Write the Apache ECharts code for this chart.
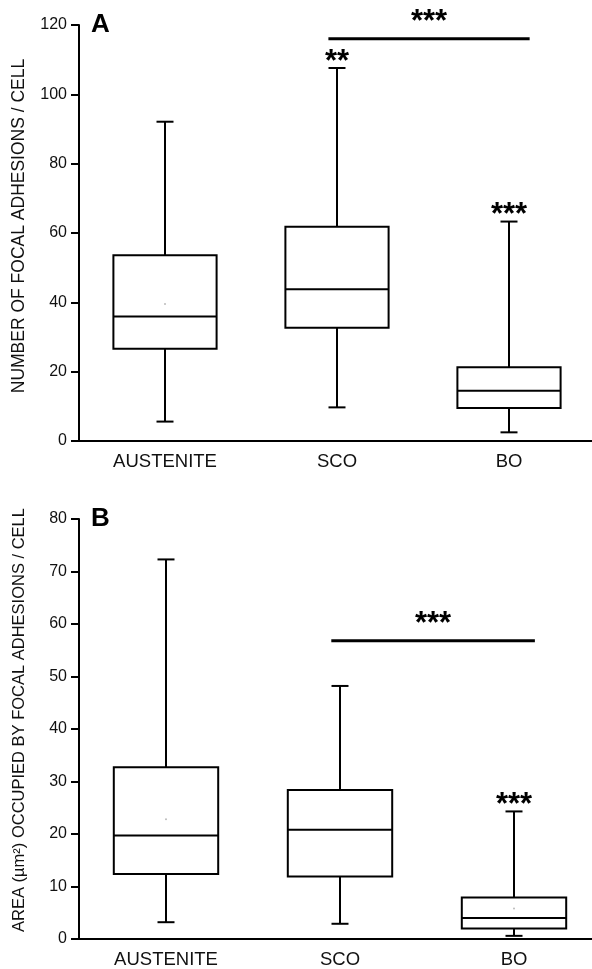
<!DOCTYPE html>
<html><head><meta charset="utf-8">
<script src="https://cdn.jsdelivr.net/npm/echarts@6/dist/echarts.min.js"></script>
<style>html,body{margin:0;padding:0;background:#fff;overflow:hidden}#c{width:620px;height:969px}</style>
</head><body><div id="c"></div>
<script>
const categories = ['AUSTENITE', 'SCO', 'BO'];
// [min, Q1, median, Q3, max]
const countStats = [[5.6, 26.6, 35.9, 53.6, 92.1], [9.7, 32.7, 43.8, 61.8, 107.6], [2.5, 9.5, 14.5, 21.3, 63.3]];
const countMeans = [39.5, null, null];
const areaStats = [[3.2, 12.4, 19.7, 32.7, 72.3], [2.9, 11.9, 20.8, 28.4, 48.2], [0.6, 2.0, 4.0, 7.9, 24.3]];
const areaMeans = [22.8, null, 5.8];
const countTicks = [0, 120, 20];
const areaTicks = [0, 80, 10];
const countStars = ['', '**', '***'];
const areaStars = ['', '', '***'];
const countBar = {from: 'SCO', to: 'BO', value: 116, label: '***'};
const areaBar = {from: 'SCO', to: 'BO', value: 56.8, label: '***'};
const panelLabels = ['A', 'B'];
const yNames = ['NUMBER OF FOCAL ADHESIONS / CELL', 'AREA (\u00b5m\u00b2) OCCUPIED BY FOCAL ADHESIONS / CELL'];

const FONT = '"Liberation Sans", Arial, sans-serif';
const chart = echarts.init(document.getElementById('c'), null, {renderer: 'canvas'});

function boxData(stats) { return stats.map((s, i) => [i].concat(s)); }
function meanData(m) { return m.map((v, i) => v == null ? null : [i, v]).filter(d => d); }

function renderBox(params, api) {
  const x = api.value(0);
  const band = api.size([1, 0])[0];
  const w = band * 0.6;
  const cap = 17;
  const pMin = api.coord([x, api.value(1)]);
  const pQ1 = api.coord([x, api.value(2)]);
  const pMed = api.coord([x, api.value(3)]);
  const pQ3 = api.coord([x, api.value(4)]);
  const pMax = api.coord([x, api.value(5)]);
  const cx = pMed[0];
  const st = {stroke: '#000', lineWidth: 2, fill: null};
  return {type: 'group', children: [
    {type: 'rect', shape: {x: cx - w / 2, y: pQ3[1], width: w, height: pQ1[1] - pQ3[1]}, style: {stroke: '#000', lineWidth: 2, fill: '#fff'}},
    {type: 'line', shape: {x1: cx - w / 2, y1: pMed[1], x2: cx + w / 2, y2: pMed[1]}, style: st},
    {type: 'line', shape: {x1: cx, y1: pQ3[1], x2: cx, y2: pMax[1]}, style: st},
    {type: 'line', shape: {x1: cx, y1: pQ1[1], x2: cx, y2: pMin[1]}, style: st},
    {type: 'line', shape: {x1: cx - cap / 2, y1: pMax[1], x2: cx + cap / 2, y2: pMax[1]}, style: st},
    {type: 'line', shape: {x1: cx - cap / 2, y1: pMin[1], x2: cx + cap / 2, y2: pMin[1]}, style: st}
  ]};
}

function xAxis(gi) {
  return {type: 'category', gridIndex: gi, data: categories, boundaryGap: true,
    axisLine: {lineStyle: {color: '#000', width: 2}}, axisTick: {show: false},
    axisLabel: {fontFamily: FONT, fontSize: 18.5, color: '#111', margin: 11}, splitLine: {show: false}};
}
function yAxis(gi, t, name, fs, shift) {
  return {type: 'value', gridIndex: gi, min: t[0], max: t[1], interval: t[2],
    name: name, nameLocation: 'middle', nameGap: 51, nameRotate: 90,
    nameTextStyle: {fontFamily: FONT, fontSize: fs, color: '#111', padding: [0, 0, 0, shift]},
    axisLine: {show: true, lineStyle: {color: '#000', width: 2}},
    axisTick: {show: true, length: 8, lineStyle: {color: '#000', width: 2}},
    axisLabel: {fontFamily: FONT, fontSize: 16, color: '#111', margin: 12}, splitLine: {show: false}};
}

chart.setOption({
  animation: false,
  backgroundColor: '#fff',
  grid: [
    {left: 79, top: 25, width: 516, height: 416},
    {left: 79, top: 519, width: 522, height: 420}
  ],
  xAxis: [xAxis(0), xAxis(1)],
  yAxis: [yAxis(0, countTicks, yNames[0], 17.5, 14), yAxis(1, areaTicks, yNames[1], 16.5, 18)],
  series: [
    {type: 'custom', xAxisIndex: 0, yAxisIndex: 0, renderItem: renderBox, data: boxData(countStats), encode: {x: 0, y: [1, 2, 3, 4, 5]}},
    {type: 'custom', xAxisIndex: 1, yAxisIndex: 1, renderItem: renderBox, data: boxData(areaStats), encode: {x: 0, y: [1, 2, 3, 4, 5]}},
    {type: 'scatter', xAxisIndex: 0, yAxisIndex: 0, data: meanData(countMeans), symbolSize: 2, itemStyle: {color: '#aaa'}, z: 5},
    {type: 'scatter', xAxisIndex: 1, yAxisIndex: 1, data: meanData(areaMeans), symbolSize: 2, itemStyle: {color: '#aaa'}, z: 5}
  ]
});

const graphics = [];
const STAR_FONT = 'bold 31px ' + FONT;
function px(gi, cat, v) { return chart.convertToPixel({xAxisIndex: gi, yAxisIndex: gi}, [cat, v]); }
function addPanel(gi, stats, stars, bar, label, maxV) {
  const p0 = px(gi, 0, 0), p1 = px(gi, 1, 0);
  const band = p1[0] - p0[0];
  stars.forEach((s, i) => {
    if (!s) return;
    const p = px(gi, i, stats[i][4]);
    graphics.push({type: 'text', x: p[0], y: p[1] - 6, style: {text: s, font: STAR_FONT, fill: '#000', textAlign: 'center', textVerticalAlign: 'middle'}});
  });
  const a = px(gi, categories.indexOf(bar.from), bar.value);
  const b = px(gi, categories.indexOf(bar.to), bar.value);
  const x1 = a[0] - 0.05 * band, x2 = b[0] + 0.12 * band;
  graphics.push({type: 'line', shape: {x1: x1, y1: a[1], x2: x2, y2: a[1]}, style: {stroke: '#000', lineWidth: 3}});
  graphics.push({type: 'text', x: (x1 + x2) / 2, y: a[1] - 16, style: {text: bar.label, font: STAR_FONT, fill: '#000', textAlign: 'center', textVerticalAlign: 'middle'}});
  const t = px(gi, 0, maxV);
  graphics.push({type: 'text', x: t[0] - 0.5 * band + 12, y: t[1], style: {text: label, font: 'bold 26px ' + FONT, fill: '#000', textAlign: 'left', textVerticalAlign: 'middle'}});
}
addPanel(0, countStats, countStars, countBar, panelLabels[0], countTicks[1]);
addPanel(1, areaStats, areaStars, areaBar, panelLabels[1], areaTicks[1]);
chart.setOption({graphic: graphics});
</script></body></html>
